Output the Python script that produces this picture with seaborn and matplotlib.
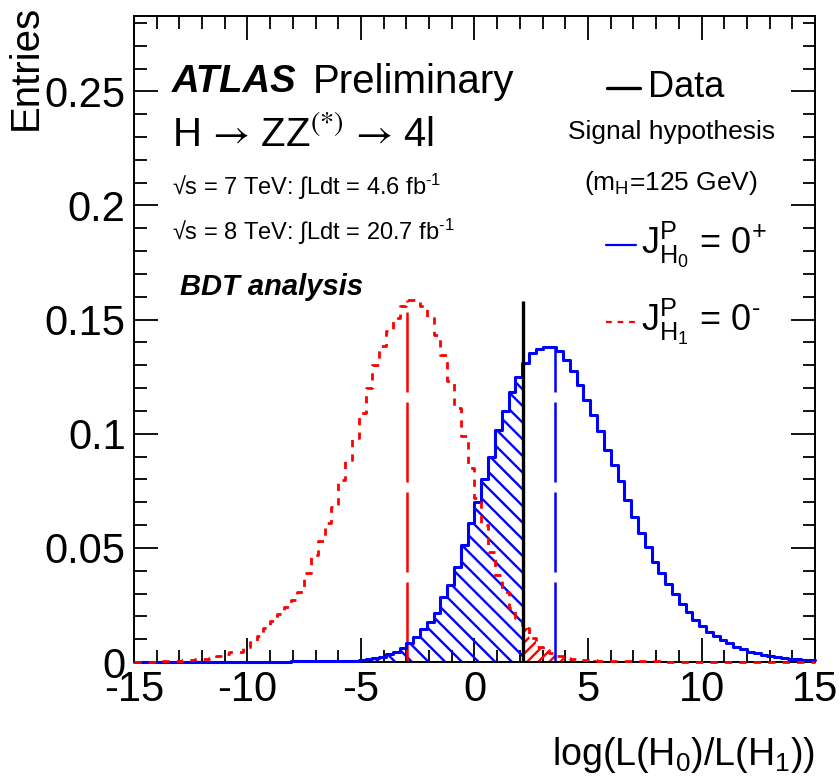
# ATLAS H->ZZ*->4l spin/parity test statistic (0+ vs 0-), BDT analysis

import numpy as np
import pandas as pd
import matplotlib
matplotlib.use('Agg')
import matplotlib.pyplot as plt
from matplotlib.ticker import MultipleLocator
import seaborn as sns

# 100 bins of width 0.3 between -15 and 15
x_range = (-15.0, 15.0)
bin_width = 0.3
bin_edges = np.linspace(x_range[0], x_range[1], 101)
bin_centers = 0.5 * (bin_edges[:-1] + bin_edges[1:])

# expected distribution for the 0+ hypothesis (H0)
h0_entries = [
    0.0000, 0.0000, 0.0000, 0.0000, 0.0000, 0.0000, 0.0000, 0.0000, 0.0001, 0.0001,
    0.0001, 0.0001, 0.0001, 0.0001, 0.0001, 0.0001, 0.0001, 0.0002, 0.0002, 0.0002,
    0.0002, 0.0002, 0.0002, 0.0003, 0.0003, 0.0003, 0.0003, 0.0003, 0.0004, 0.0004,
    0.0004, 0.0005, 0.0005, 0.0008, 0.0012, 0.0016, 0.0023, 0.0034, 0.0045, 0.0063,
    0.0084, 0.0111, 0.0146, 0.0174, 0.0214, 0.0284, 0.0336, 0.0415, 0.0513, 0.0610,
    0.0703, 0.0803, 0.0900, 0.1018, 0.1100, 0.1185, 0.1250, 0.1310, 0.1354, 0.1373,
    0.1382, 0.1379, 0.1361, 0.1322, 0.1275, 0.1215, 0.1149, 0.1083, 0.1010, 0.0930,
    0.0864, 0.0791, 0.0711, 0.0637, 0.0564, 0.0506, 0.0440, 0.0389, 0.0342, 0.0298,
    0.0254, 0.0221, 0.0184, 0.0159, 0.0133, 0.0115, 0.0096, 0.0082, 0.0067, 0.0056,
    0.0045, 0.0038, 0.0031, 0.0025, 0.0021, 0.0017, 0.0014, 0.0011, 0.0009, 0.0007,
]

# expected distribution for the 0- hypothesis (H1)
h1_entries = [
    0.0000, 0.0001, 0.0001, 0.0002, 0.0003, 0.0004, 0.0005, 0.0007, 0.0009, 0.0011,
    0.0015, 0.0019, 0.0026, 0.0033, 0.0042, 0.0046, 0.0066, 0.0086, 0.0112, 0.0148,
    0.0180, 0.0210, 0.0240, 0.0270, 0.0305, 0.0389, 0.0469, 0.0531, 0.0608, 0.0681,
    0.0798, 0.0886, 0.0981, 0.1090, 0.1200, 0.1303, 0.1383, 0.1449, 0.1507, 0.1558,
    0.1588, 0.1585, 0.1558, 0.1507, 0.1434, 0.1346, 0.1229, 0.1112, 0.0988, 0.0850,
    0.0718, 0.0601, 0.0484, 0.0382, 0.0308, 0.0235, 0.0192, 0.0148, 0.0107, 0.0067,
    0.0053, 0.0038, 0.0028, 0.0019, 0.0013, 0.0010, 0.0008, 0.0007, 0.0006, 0.0005,
    0.0005, 0.0004, 0.0004, 0.0004, 0.0003, 0.0003, 0.0003, 0.0003, 0.0002, 0.0002,
    0.0002, 0.0002, 0.0002, 0.0002, 0.0001, 0.0001, 0.0001, 0.0001, 0.0001, 0.0001,
    0.0001, 0.0001, 0.0001, 0.0001, 0.0001, 0.0000, 0.0000, 0.0000, 0.0000, 0.0000,
]

data_obs = 2.14          # observed value of the test statistic
data_height = 0.158      # length of the data marker
median_h0 = 3.55
median_h1 = -2.98

h0 = np.array(h0_entries)
h1 = np.array(h1_entries)
df = pd.DataFrame({'llr': bin_centers, 'h0': h0, 'h1': h1})


def value_at(values, x):
    i = np.clip(np.searchsorted(bin_edges, x, side='right') - 1, 0, len(values) - 1)
    return values[i]


def step_region(values, lo, hi):
    # step outline of a histogram cut to [lo, hi], for the hatched areas
    inner = bin_edges[(bin_edges > lo) & (bin_edges < hi)]
    xs = np.concatenate([[lo], inner, [hi]])
    return xs, value_at(values, xs)


sns.set_style('ticks')
plt.rcParams['font.family'] = ['Liberation Sans', 'DejaVu Sans']
plt.rcParams['mathtext.fontset'] = 'custom'
plt.rcParams['mathtext.rm'] = 'Liberation Sans'
plt.rcParams['mathtext.it'] = 'Liberation Sans:italic'
plt.rcParams['mathtext.bf'] = 'Liberation Sans:bold'
plt.rcParams['hatch.linewidth'] = 1.7
plt.rcParams['axes.unicode_minus'] = False
for key in ['text.color', 'axes.labelcolor', 'xtick.color', 'ytick.color']:
    plt.rcParams[key] = 'black'

HY = '\u2010'  # short hyphen for the superscripts, as in the original

fig, ax = plt.subplots(figsize=(8.39, 7.77), dpi=100)
fig.subplots_adjust(left=0.1597, right=0.9714, bottom=0.148, top=0.9794)

# hatched areas: H0 below the data, H1 above the data
xs, ys = step_region(h0, bin_edges[0], data_obs)
ax.fill_between(xs, ys, step='post', facecolor='none', edgecolor='blue',
                hatch='\\\\', linewidth=0)
xs, ys = step_region(h1, data_obs, bin_edges[-1])
ax.fill_between(xs, ys, step='post', facecolor='none', edgecolor='red',
                hatch='///', linewidth=0)

sns.histplot(data=df, x='llr', weights='h0', binwidth=bin_width, binrange=x_range,
             element='step', fill=False, color='blue', linewidth=2.2,
             clip_on=False, zorder=3, ax=ax)
sns.histplot(data=df, x='llr', weights='h1', binwidth=bin_width, binrange=x_range,
             element='step', fill=False, color='red', linewidth=2.0,
             linestyle=(0, (2.6, 2.6)), clip_on=False, zorder=3, ax=ax)

# medians of the two hypotheses and the observed value
ax.vlines(median_h1, 0, value_at(h1, median_h1), colors='red', linewidth=1.8,
          linestyles=[(0, (32, 4))])
ax.vlines(median_h0, 0, value_at(h0, median_h0), colors='blue', linewidth=1.8,
          linestyles=[(0, (32, 4))])
ax.vlines(data_obs, 0, data_height, colors='black', linewidth=2.4, zorder=4)

ax.set_xlim(-15, 15)
ax.set_ylim(0, 0.283)
ax.xaxis.set_major_locator(MultipleLocator(5))
ax.xaxis.set_minor_locator(MultipleLocator(1))
ax.yaxis.set_major_locator(MultipleLocator(0.05))
ax.yaxis.set_minor_locator(MultipleLocator(0.01))
ax.yaxis.set_major_formatter(plt.FuncFormatter(lambda v, p: f'{v:g}'))
ax.tick_params(which='both', direction='in', top=True, right=True,
               width=1.3, labelsize=30)
ax.tick_params(which='major', length=17, pad=6)
ax.tick_params(which='minor', length=9)
for s in ax.spines.values():
    s.set_linewidth(1.4)
    s.set_color('black')

ax.set_ylabel('Entries', loc='top', fontsize=29)
ax.yaxis.set_label_coords(-0.131, 1.017)
ax.set_xlabel(r'log(L(H$_{0}$)/L(H$_{1}$))', loc='right', fontsize=27, labelpad=18)

tr = ax.transAxes
ax.text(0.056, 0.898, 'ATLAS', transform=tr, fontsize=27.5, fontweight='bold',
        fontstyle='italic', va='center')
ax.text(0.263, 0.898, 'Preliminary', transform=tr, fontsize=29, va='center')
ax.text(0.056, 0.816, r'H$\,\rightarrow\,$ZZ$^{(*)}\,\rightarrow\,$4l', transform=tr,
        fontsize=29, va='center', math_fontfamily='stixsans')
ax.text(0.056, 0.735, '\u221as = 7 TeV: \u222bLdt = 4.6 fb$^{' + HY + '1}$',
        transform=tr, fontsize=17, va='center')
ax.text(0.056, 0.666, '\u221as = 8 TeV: \u222bLdt = 20.7 fb$^{' + HY + '1}$',
        transform=tr, fontsize=17, va='center')
ax.text(0.068, 0.581, 'BDT analysis', transform=tr, fontsize=21, fontweight='bold',
        fontstyle='italic', va='center')

# legend drawn by hand, ROOT style
ax.plot([0.695, 0.743], [0.889, 0.889], color='black', lw=2.4, transform=tr)
ax.text(0.755, 0.889, 'Data', transform=tr, fontsize=26, va='center')
ax.text(0.789, 0.820, 'Signal hypothesis', transform=tr, fontsize=19, ha='center',
        va='center')
ax.text(0.789, 0.742, r'(m$_{\mathrm{H}}$=125 GeV)', transform=tr, fontsize=19,
        ha='center', va='center')
ax.plot([0.693, 0.737], [0.646, 0.646], color='blue', lw=1.6, transform=tr)
ax.text(0.745, 0.646, r'$\mathrm{J^{P}_{H_{0}}}$ = 0$^{+}$', transform=tr,
        fontsize=26, va='center')
ax.plot([0.693, 0.737], [0.527, 0.527], color='red', lw=1.6,
        linestyle=(0, (2.6, 2.6)), transform=tr)
ax.text(0.745, 0.527, r'$\mathrm{J^{P}_{H_{1}}}$ = 0$^{' + HY + '}$', transform=tr,
        fontsize=26, va='center')

plt.savefig('out.png', dpi=100)
plt.close()
